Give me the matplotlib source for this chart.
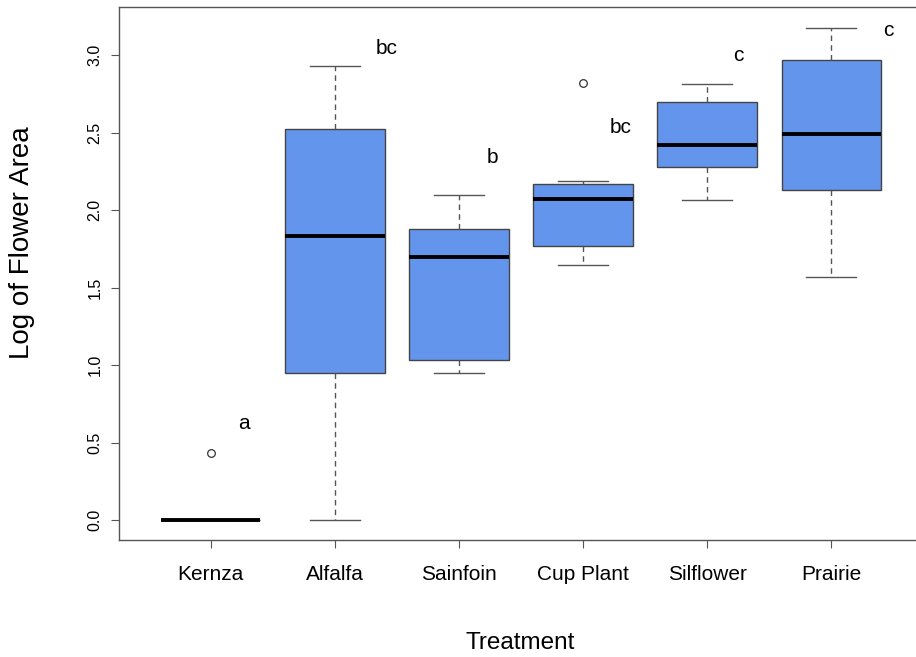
import matplotlib
matplotlib.use("Agg")
from matplotlib import pyplot as plt

plt.rcParams['font.family'] = ['Liberation Sans', 'DejaVu Sans']

# treatment names and box stats
treatments = ["Kernza", "Alfalfa", "Sainfoin", "Cup Plant", "Silflower", "Prairie"]
med = [0.0, 1.83, 1.70, 2.07, 2.42, 2.49]
q1 = [0.0, 0.95, 1.03, 1.77, 2.28, 2.13]
q3 = [0.0, 2.52, 1.88, 2.17, 2.70, 2.97]
whislo = [0.0, 0.0, 0.95, 1.645, 2.065, 1.57]
whishi = [0.0, 2.93, 2.10, 2.19, 2.81, 3.175]
outliers = [[0.43], [], [], [2.82], [], []]

# significance letters and where they sit
letters = ["a", "bc", "b", "bc", "c", "c"]
letter_x = [1.27, 2.42, 3.27, 4.30, 5.25, 6.46]
letter_y = [0.62, 3.04, 2.34, 2.53, 3.00, 3.16]

stats = []
for i in range(len(treatments)):
    stats.append({"med": med[i], "q1": q1[i], "q3": q3[i],
                  "whislo": whislo[i], "whishi": whishi[i],
                  "fliers": outliers[i], "label": treatments[i]})

fig = plt.figure(figsize=(9.16, 6.57), dpi=100)
ax = fig.add_axes([119/916, 1 - 540/657, (923-119)/916, (540-7)/657])

grey = "#555555"
ax.bxp(stats, positions=range(1, 7), widths=0.8, patch_artist=True,
       boxprops=dict(facecolor="#6495ED", edgecolor="#444444", linewidth=1.0),
       medianprops=dict(color="black", linewidth=2.8, solid_capstyle="butt"),
       whiskerprops=dict(color=grey, linestyle=(0, (4, 3)), linewidth=1.0),
       capprops=dict(color=grey, linewidth=1.0),
       capwidths=0.4,
       flierprops=dict(marker="o", markerfacecolor="none", markeredgecolor="#333333",
                       markersize=5.5, markeredgewidth=0.9))

for x, y, s in zip(letter_x, letter_y, letters):
    ax.text(x, y, s, fontsize=15, ha="center", va="center")

ax.set_xlim(0.26, 6.74)
ax.set_ylim(-0.129, 3.31)
ax.set_yticks([0.0, 0.5, 1.0, 1.5, 2.0, 2.5, 3.0])
ax.set_yticklabels(["0.0", "0.5", "1.0", "1.5", "2.0", "2.5", "3.0"], rotation=90, va="center")
ax.set_xticks(range(1, 7))
ax.set_xticklabels(treatments)
ax.tick_params(axis="y", labelsize=11.5, length=6, color=grey, pad=6)
ax.tick_params(axis="x", labelsize=15, length=6, color=grey, pad=12)
for sp in ax.spines.values():
    sp.set_color(grey)
    sp.set_linewidth(1.0)

ax.set_xlabel("Treatment", fontsize=17.5)
ax.xaxis.set_label_coords((520-119)/804, -(643-540)/533)
ax.set_ylabel("Log of Flower Area", fontsize=20)
ax.yaxis.set_label_coords(-(119-22)/804, (540-243)/533)
ax.xaxis.label.set_va("center")
ax.yaxis.label.set_va("center")

fig.savefig("out.png", dpi=100)
